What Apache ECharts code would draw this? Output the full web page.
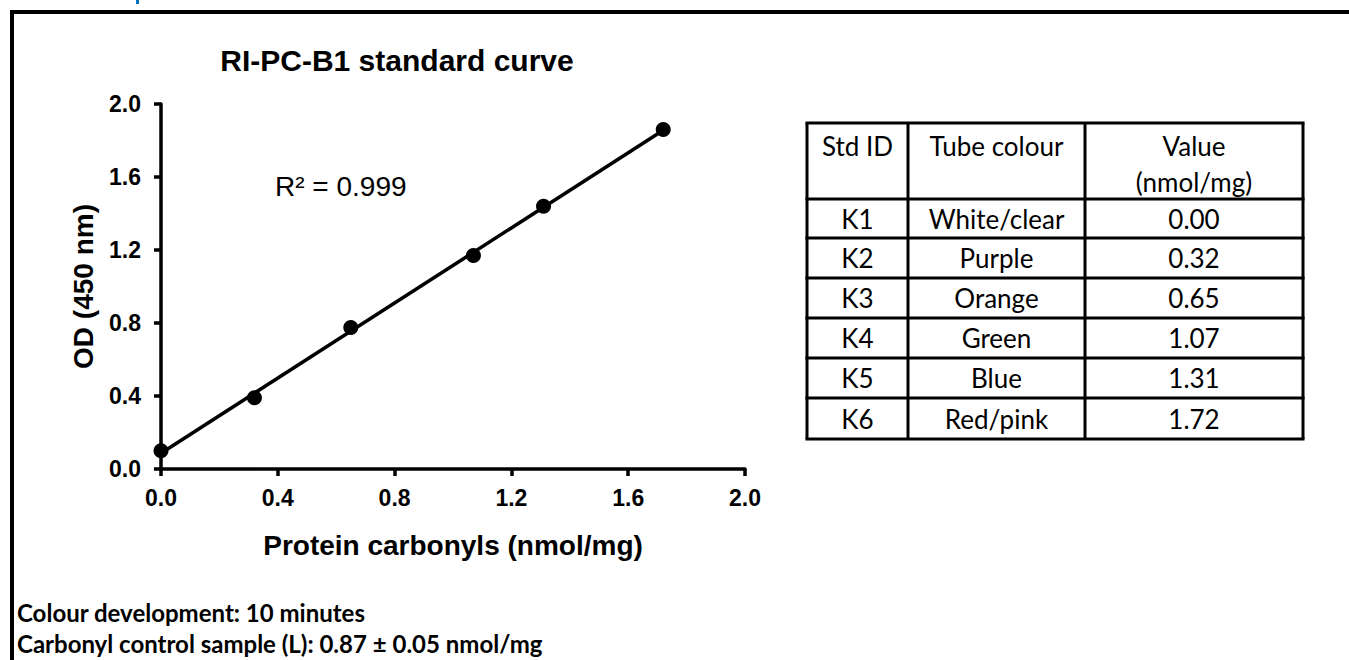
<!DOCTYPE html>
<html>
<head>
<meta charset="utf-8">
<script src="https://cdn.jsdelivr.net/npm/echarts@6/dist/echarts.min.js"></script>
<style>
html,body{margin:0;padding:0;background:#fff;}
#chart{width:1349px;height:660px;}
</style>
</head>
<body>
<div id="chart"></div>
<script>
// ---- data ----
var stdIds = ['K1', 'K2', 'K3', 'K4', 'K5', 'K6'];
var tubeColours = ['White/clear', 'Purple', 'Orange', 'Green', 'Blue', 'Red/pink'];
var stdValues = [0.00, 0.32, 0.65, 1.07, 1.31, 1.72];      // x: protein carbonyls (nmol/mg)
var odValues = [0.10, 0.39, 0.775, 1.17, 1.44, 1.86];      // y: OD (450 nm)
var axisTicks = [0.0, 0.4, 0.8, 1.2, 1.6, 2.0];
var rSquaredLabel = 'R\u00b2 = 0.999';
var titleText = 'RI-PC-B1 standard curve';
var noteLines = ['Colour development: 10 minutes', 'Carbonyl control sample (L): 0.87 \u00b1 0.05 nmol/mg'];

// least-squares fit through the standards (trendline)
function fit(xs, ys) {
  var n = xs.length, mx = 0, my = 0;
  for (var i = 0; i < n; i++) { mx += xs[i]; my += ys[i]; }
  mx /= n; my /= n;
  var sxx = 0, sxy = 0;
  for (var j = 0; j < n; j++) { sxx += (xs[j] - mx) * (xs[j] - mx); sxy += (xs[j] - mx) * (ys[j] - my); }
  var b = sxy / sxx; return { slope: b, intercept: my - b * mx };
}
var f = fit(stdValues, odValues);
var xMin = Math.min.apply(null, stdValues), xMax = Math.max.apply(null, stdValues);
var trend = [[xMin, f.intercept + f.slope * xMin], [xMax, f.intercept + f.slope * xMax]];
var points = stdValues.map(function (x, i) { return [x, odValues[i]]; });

var ARIAL = '"Liberation Sans", Arial, sans-serif';
var CAL = 'Lato, "Open Sans", sans-serif';

// ---- table graphic ----
var colX = [807, 908, 1085, 1303];
var rowY = [123, 199, 238, 278, 318, 358, 398, 439];
var tbl = [];
var LW = 3;
rowY.forEach(function (y) {
  tbl.push({ type: 'line', shape: { x1: colX[0] - LW / 2, y1: y, x2: colX[3] + LW / 2, y2: y }, style: { stroke: '#000', lineWidth: LW } });
});
colX.forEach(function (x) {
  tbl.push({ type: 'line', shape: { x1: x, y1: rowY[0], x2: x, y2: rowY[rowY.length - 1] }, style: { stroke: '#000', lineWidth: LW } });
});
function cellText(txt, cx, cy) {
  tbl.push({ type: 'text', x: cx, y: cy, style: { text: txt, font: '26px ' + CAL, fill: '#000', textAlign: 'center', textVerticalAlign: 'middle' } });
}
var cc = [(colX[0] + colX[1]) / 2, (colX[1] + colX[2]) / 2, (colX[2] + colX[3]) / 2];
cellText('Std ID', cc[0], 146);
cellText('Tube colour', cc[1], 146);
cellText('Value', cc[2], 146);
cellText('(nmol/mg)', cc[2], 182);
for (var r = 0; r < stdIds.length; r++) {
  var cy = (rowY[r + 1] + rowY[r + 2]) / 2;
  cellText(stdIds[r], cc[0], cy);
  cellText(tubeColours[r], cc[1], cy);
  cellText(stdValues[r].toFixed(2), cc[2], cy);
}

var graphics = [
  // frame
  { type: 'line', shape: { x1: 10, y1: 12, x2: 1349, y2: 12 }, style: { stroke: '#000', lineWidth: 4 } },
  { type: 'line', shape: { x1: 12, y1: 10, x2: 12, y2: 660 }, style: { stroke: '#000', lineWidth: 4 } },
  // cut-off blue heading remnant above the frame
  { type: 'rect', shape: { x: 136, y: 0, width: 3, height: 4 }, style: { fill: '#0070C0' } },
  // R^2 label
  { type: 'text', x: 275, y: 186, style: { text: rSquaredLabel, font: '28px ' + ARIAL, fill: '#000', textVerticalAlign: 'middle' } },
  // notes
  { type: 'text', x: 17, y: 612, style: { text: noteLines[0], font: 'bold 24px ' + CAL, fill: '#000', textVerticalAlign: 'middle' } },
  { type: 'text', x: 17, y: 643, style: { text: noteLines[1], font: 'bold 24px ' + CAL, fill: '#000', textVerticalAlign: 'middle' } }
].concat(tbl);

var chart = echarts.init(document.getElementById('chart'), null, { renderer: 'svg' });
var axisCommon = {
  type: 'value', min: 0, max: 2, interval: 0.4,
  splitLine: { show: false },
  axisLine: { show: true, onZero: false, lineStyle: { color: '#000', width: 3.5 } },
  axisTick: { show: true, inside: false, length: 7, lineStyle: { color: '#000', width: 3.5 } },
  axisLabel: { color: '#000', fontFamily: ARIAL, fontWeight: 'bold', fontSize: 23, formatter: function (v) { return v.toFixed(1); } },
  nameLocation: 'middle',
  nameTextStyle: { color: '#000', fontFamily: ARIAL, fontWeight: 'bold', fontSize: 28 }
};
chart.setOption({
  animation: false,
  backgroundColor: '#fff',
  title: { text: titleText, left: 392, top: 40, textAlign: 'center',
    textStyle: { color: '#000', fontFamily: ARIAL, fontWeight: 'bold', fontSize: 30 } },
  grid: { left: 161, right: 604, top: 104, bottom: 191, containLabel: false },
  xAxis: Object.assign({}, axisCommon, {
    name: 'Protein carbonyls (nmol/mg)', nameGap: 62,
    axisLabel: Object.assign({}, axisCommon.axisLabel, { margin: 17 })
  }),
  yAxis: Object.assign({}, axisCommon, {
    name: 'OD (450 nm)', nameGap: 64,
    axisLabel: Object.assign({}, axisCommon.axisLabel, { margin: 20 })
  }),
  series: [
    { type: 'line', data: trend, symbol: 'none', lineStyle: { color: '#000', width: 3.5 }, z: 2 },
    { type: 'scatter', data: points, symbol: 'circle', symbolSize: 15, itemStyle: { color: '#000', opacity: 1 }, z: 3 }
  ],
  graphic: graphics
});
</script>
</body>
</html>
